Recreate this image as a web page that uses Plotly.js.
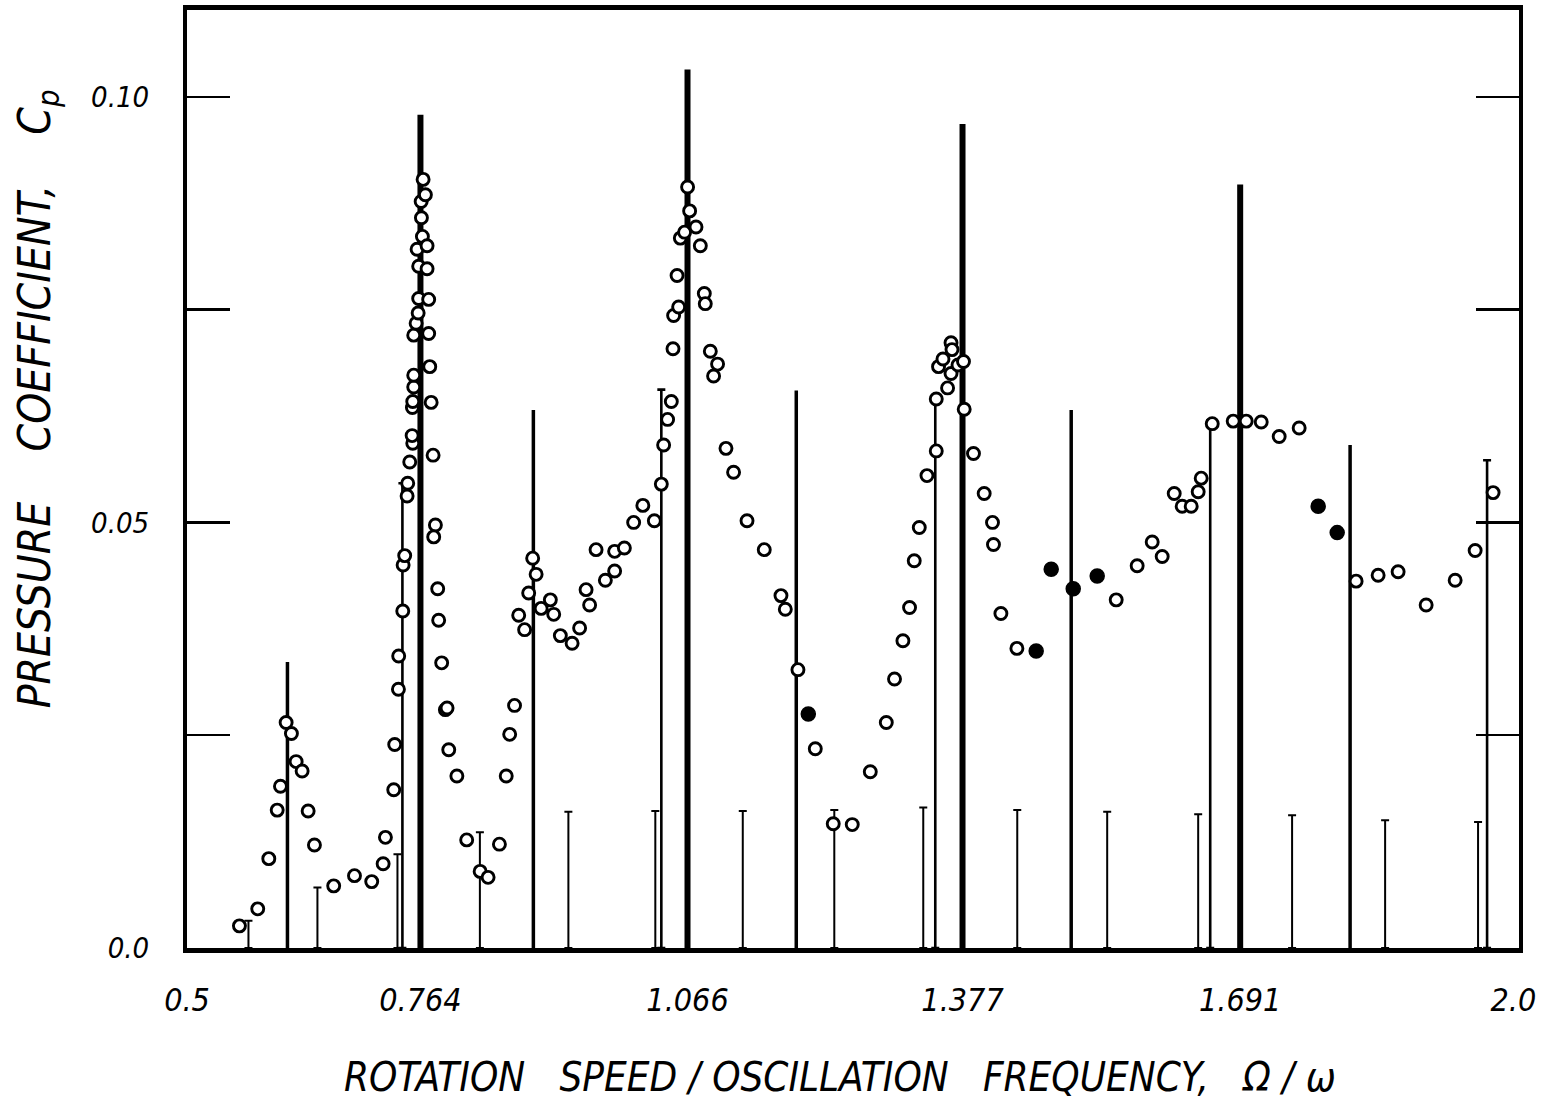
<!DOCTYPE html>
<html>
<head>
<meta charset="utf-8">
<script src="https://cdn.plot.ly/plotly-3.0.1.min.js"></script>
<style>
  html, body { margin: 0; padding: 0; background: #fff; }
  #chart { width: 1558px; height: 1105px; }
</style>
</head>
<body>
<div id="chart"></div>
<script>
// Measured pressure coefficient, open symbols
const openX = [
  0.5593, 0.5800, 0.5925, 0.6020, 0.6057, 0.6121, 0.6181, 0.6234, 0.6302, 0.6370,
  0.6441, 0.6659, 0.6894, 0.7089, 0.7218, 0.7244, 0.7338, 0.7349, 0.7391, 0.7394,
  0.7440, 0.7444, 0.7462, 0.7489, 0.7496, 0.7519, 0.7553, 0.7546, 0.7549, 0.7553,
  0.7564, 0.7564, 0.7564, 0.7591, 0.7614, 0.7620, 0.7620, 0.7602, 0.7662, 0.7651,
  0.7648, 0.7696, 0.7670, 0.7715, 0.7715, 0.7733, 0.7733, 0.7745, 0.7761, 0.7783,
  0.7809, 0.7790, 0.7835, 0.7846, 0.7880, 0.7922, 0.7941, 0.7960, 0.8052, 0.8163,
  0.8315, 0.8405, 0.8533, 0.8610, 0.8649, 0.8704, 0.8751, 0.8818, 0.8864, 0.8948,
  0.8909, 0.9005, 0.9109, 0.9147, 0.9222, 0.9355, 0.9440, 0.9513, 0.9553, 0.9626,
  0.9731, 0.9836, 0.9836, 0.9946, 1.0051, 1.0155, 1.0285, 1.0364, 1.0390, 1.0435,
  1.0477, 1.0496, 1.0503, 1.0560, 1.0542, 1.0579, 1.0627, 1.0661, 1.0684, 1.0756,
  1.0805, 1.0850, 1.0861, 1.0918, 1.1000, 1.0955, 1.1095, 1.1181, 1.1333, 1.1528,
  1.1717, 1.1766, 1.1909, 1.2105, 1.2308, 1.2523, 1.2727, 1.2908, 1.3001, 1.3096,
  1.3171, 1.3224, 1.3281, 1.3368, 1.3473, 1.3473, 1.3499, 1.3549, 1.3601, 1.3640,
  1.3640, 1.3651, 1.3719, 1.3781, 1.3789, 1.3894, 1.4015, 1.4109, 1.4120, 1.4204,
  1.4385, 1.5508, 1.5745, 1.5915, 1.6028, 1.6164, 1.6254, 1.6356, 1.6435, 1.6469,
  1.6594, 1.6831, 1.6978, 1.7148, 1.7351, 1.7577, 1.8221, 1.8470, 1.8696, 1.9013,
  1.9341, 1.9567, 1.9770
];
const openCp = [
  0.0026, 0.0046, 0.0105, 0.0162, 0.0190, 0.0265, 0.0252, 0.0219, 0.0208, 0.0161,
  0.0121, 0.0073, 0.0085, 0.0078, 0.0099, 0.0130, 0.0186, 0.0239, 0.0304, 0.0343,
  0.0396, 0.0450, 0.0461, 0.0531, 0.0546, 0.0571, 0.0593, 0.0602, 0.0635, 0.0642,
  0.0659, 0.0673, 0.0720, 0.0734, 0.0746, 0.0763, 0.0801, 0.0821, 0.0836, 0.0858,
  0.0877, 0.0885, 0.0903, 0.0825, 0.0798, 0.0762, 0.0722, 0.0683, 0.0641, 0.0579,
  0.0497, 0.0483, 0.0422, 0.0385, 0.0335, 0.0280, 0.0282, 0.0233, 0.0202, 0.0127,
  0.0090, 0.0083, 0.0122, 0.0202, 0.0251, 0.0285, 0.0391, 0.0374, 0.0417, 0.0439,
  0.0458, 0.0399, 0.0409, 0.0392, 0.0367, 0.0358, 0.0376, 0.0421, 0.0403, 0.0468,
  0.0432, 0.0443, 0.0466, 0.0470, 0.0500, 0.0520, 0.0502, 0.0545, 0.0591, 0.0621,
  0.0642, 0.0704, 0.0743, 0.0753, 0.0790, 0.0834, 0.0841, 0.0894, 0.0866, 0.0847,
  0.0825, 0.0769, 0.0757, 0.0701, 0.0686, 0.0672, 0.0587, 0.0559, 0.0502, 0.0468,
  0.0414, 0.0398, 0.0327, 0.0234, 0.0146, 0.0145, 0.0207, 0.0265, 0.0316, 0.0361,
  0.0400, 0.0455, 0.0494, 0.0555, 0.0584, 0.0645, 0.0683, 0.0692, 0.0658, 0.0675,
  0.0711, 0.0703, 0.0685, 0.0689, 0.0633, 0.0581, 0.0534, 0.0500, 0.0474, 0.0393,
  0.0352, 0.0409, 0.0449, 0.0477, 0.0460, 0.0534, 0.0519, 0.0519, 0.0536, 0.0552,
  0.0616, 0.0619, 0.0619, 0.0618, 0.0601, 0.0611, 0.0431, 0.0438, 0.0442, 0.0403,
  0.0432, 0.0467, 0.0535
];

// Measured pressure coefficient, solid symbols
const solidX  = [1.2026, 1.4603, 1.4773, 1.5022, 1.5293, 1.7792, 1.8007];
const solidCp = [0.0275, 0.0349, 0.0445, 0.0422, 0.0437, 0.0519, 0.0488];

// Predicted spectral lines: principal resonances
const resonanceX = [0.764, 1.066, 1.377, 1.691];
const resonanceCp = [0.0979, 0.1032, 0.0968, 0.0897];
// Secondary lines between resonances
const secondaryX = [0.6136, 0.8917, 1.1890, 1.4999, 1.8153];
const secondaryCp = [0.0336, 0.0632, 0.0655, 0.0632, 0.0591];
// Lines just below each resonance
const flankX = [0.7436, 1.0364, 1.3462, 1.6571, 1.9702];
const flankCp = [0.0546, 0.0656, 0.0646, 0.0620, 0.0573];
// Weak lines
const minorX = [0.5695, 0.6475, 0.7380, 0.8312, 0.9313, 1.0296, 1.1285, 1.2320,
                1.3326, 1.4389, 1.5406, 1.6435, 1.7497, 1.8549, 1.9600];
const minorCp = [0.0032, 0.0071, 0.0110, 0.0136, 0.0160, 0.0161, 0.0161, 0.0162,
                 0.0165, 0.0162, 0.0160, 0.0157, 0.0156, 0.0150, 0.0148];

// Tick values and labels
const xTickVals = [0.5, 0.764, 1.066, 1.377, 1.691, 2.0];
const xTickText = ['0.5', '0.764', '1.066', '1.377', '1.691', '2.0'];
const yTickVals = [0, 0.05, 0.10];
const yTickText = ['0.0', '0.05', '0.10'];
const yMinorVals = [0.025, 0.075];

const FONT = "'DejaVu Sans Condensed', 'DejaVu Sans', sans-serif";

// A vertical line from zero up to each value, drawn as a one-sided error bar
function lineTrace(xs, hs, thickness, cap) {
  return {
    type: 'scatter',
    mode: 'markers',
    x: xs,
    y: xs.map(() => 0),
    marker: { size: 1, opacity: 0 },
    error_y: {
      type: 'data', symmetric: false,
      array: hs, arrayminus: hs.map(() => 0),
      color: '#000', thickness: thickness, width: cap
    },
    hoverinfo: 'skip',
    showlegend: false
  };
}

const traces = [
  lineTrace(minorX, minorCp, 2, 4),
  lineTrace(flankX, flankCp, 2.6, 4),
  lineTrace(secondaryX, secondaryCp, 3.5, 0),
  lineTrace(resonanceX, resonanceCp, 6, 0),
  {
    type: 'scatter', mode: 'markers',
    x: openX, y: openCp,
    marker: { symbol: 'circle', size: 12, color: '#fff', line: { color: '#000', width: 2.9 } },
    showlegend: false
  },
  {
    type: 'scatter', mode: 'markers',
    x: solidX, y: solidCp,
    marker: { symbol: 'circle', size: 14, color: '#000', line: { color: '#000', width: 1.5 } },
    showlegend: false
  }
];

const layout = {
  width: 1558, height: 1105,
  margin: { l: 187, r: 39, t: 10, b: 157 },
  paper_bgcolor: '#fff', plot_bgcolor: '#fff',
  font: { family: FONT, color: '#000', style: 'italic' },
  showlegend: false,
  xaxis: {
    range: [0.5, 2.0063],
    tickmode: 'array', tickvals: xTickVals, ticktext: xTickText,
    ticks: '', showgrid: false, zeroline: false,
    showline: true, linecolor: '#000', linewidth: 5, mirror: true,
    tickfont: { family: FONT, size: 32, style: 'italic', color: '#000' },
    ticklabelstandoff: 20
  },
  yaxis: {
    range: [0, 0.1102],
    tickmode: 'array', tickvals: yTickVals, ticktext: yTickText,
    ticks: 'inside', ticklen: 43, tickwidth: 2.5, tickcolor: '#000',
    minor: { tickmode: 'array', tickvals: yMinorVals, ticks: 'inside', ticklen: 43, tickwidth: 2.5, tickcolor: '#000', showgrid: false },
    showgrid: false, zeroline: false,
    showline: true, linecolor: '#000', linewidth: 4, mirror: 'ticks',
    tickfont: { family: FONT, size: 29, style: 'italic', color: '#000' },
    ticklabelstandoff: 28
  },
  annotations: [
    {
      text: 'PRESSURE\u00A0\u00A0\u00A0\u00A0COEFFICIENT,\u00A0\u00A0\u00A0\u00A0C<sub>p</sub>',
      xref: 'paper', yref: 'paper', x: -0.1126, y: 0.585,
      xanchor: 'center', yanchor: 'middle', textangle: -90, showarrow: false,
      font: { family: FONT, size: 44, style: 'italic', color: '#000' }
    },
    {
      text: 'ROTATION\u00A0\u00A0\u00A0SPEED\u00A0/\u00A0OSCILLATION\u00A0\u00A0\u00A0FREQUENCY,\u00A0\u00A0\u00A0\u03A9\u00A0/\u00A0\u03C9',
      xref: 'paper', yref: 'paper', x: 0.49, y: -0.1375,
      xanchor: 'center', yanchor: 'middle', showarrow: false,
      font: { family: FONT, size: 40, style: 'italic', color: '#000' }
    }
  ]
};

Plotly.newPlot('chart', traces, layout, { displayModeBar: false, staticPlot: true });
</script>
</body>
</html>
